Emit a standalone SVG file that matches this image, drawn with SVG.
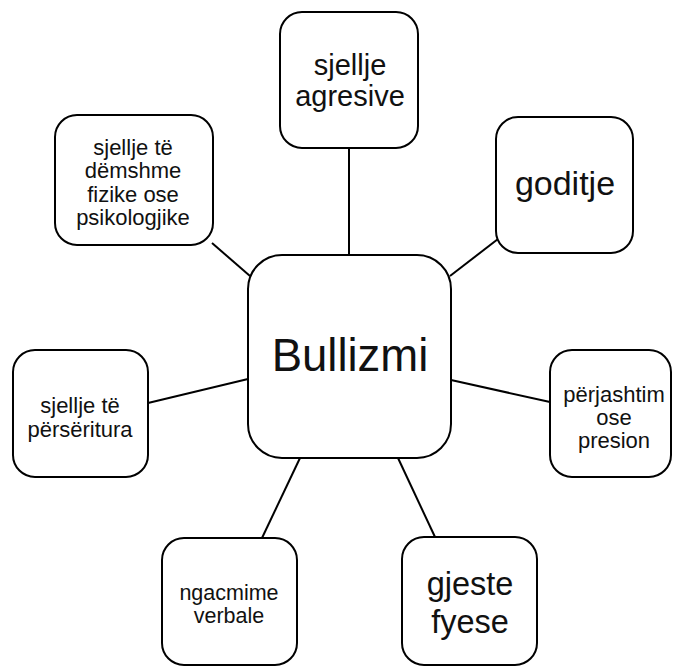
<svg xmlns="http://www.w3.org/2000/svg" width="677" height="669" viewBox="0 0 677 669">
  <style>
    .box { fill: #ffffff; stroke: #000000; stroke-width: 2; }
    .edge { stroke: #000000; stroke-width: 2; fill: none; }
    text { font-family: "Liberation Sans", Arial, sans-serif; fill: #111111; text-anchor: middle; }
  </style>
  <rect width="677" height="669" fill="#ffffff"/>
  <g id="connectors">
    <line class="edge" x1="349" y1="148" x2="349" y2="255"/>
    <line class="edge" x1="212" y1="243" x2="250" y2="276"/>
    <line class="edge" x1="450" y1="276" x2="498" y2="239"/>
    <line class="edge" x1="148" y1="403" x2="248" y2="379"/>
    <line class="edge" x1="451" y1="380" x2="550" y2="402"/>
    <line class="edge" x1="300" y1="458" x2="262" y2="538"/>
    <line class="edge" x1="398" y1="458" x2="435" y2="537"/>
  </g>
  <g id="node-bullizmi">
    <rect class="box" x="248" y="255" width="203" height="203" rx="34" ry="34"/>
    <text x="350" y="371" font-size="45.5">Bullizmi</text>
  </g>
  <g id="node-sjellje-agresive">
    <rect class="box" x="280" y="12" width="138" height="136" rx="22" ry="22"/>
    <text x="350" y="75" font-size="29">sjellje</text>
    <text x="350" y="106" font-size="29">agresive</text>
  </g>
  <g id="node-demshme">
    <rect class="box" x="55" y="115" width="158" height="130" rx="22" ry="22"/>
    <text x="133" y="155" font-size="22">sjellje të</text>
    <text x="133" y="178" font-size="22">dëmshme</text>
    <text x="133" y="202" font-size="22">fizike ose</text>
    <text x="133" y="225" font-size="22">psikologjike</text>
  </g>
  <g id="node-goditje">
    <rect class="box" x="496" y="117" width="137" height="136" rx="22" ry="22"/>
    <text x="565" y="195" font-size="34">goditje</text>
  </g>
  <g id="node-perseritura">
    <rect class="box" x="13" y="350" width="135" height="127" rx="22" ry="22"/>
    <text x="80" y="413" font-size="22">sjellje të</text>
    <text x="80" y="437" font-size="22">përsëritura</text>
  </g>
  <g id="node-perjashtim">
    <rect class="box" x="550" y="350" width="121" height="127" rx="22" ry="22"/>
    <text x="614" y="402" font-size="22">përjashtim</text>
    <text x="614" y="425" font-size="22">ose</text>
    <text x="614" y="448" font-size="22">presion</text>
  </g>
  <g id="node-ngacmime">
    <rect class="box" x="162" y="538" width="135" height="127" rx="22" ry="22"/>
    <text x="229" y="600" font-size="21.5">ngacmime</text>
    <text x="229" y="623" font-size="21.5">verbale</text>
  </g>
  <g id="node-gjeste">
    <rect class="box" x="402" y="537" width="135" height="128" rx="22" ry="22"/>
    <text x="470" y="595" font-size="32.5">gjeste</text>
    <text x="470" y="633" font-size="32.5">fyese</text>
  </g>
</svg>
